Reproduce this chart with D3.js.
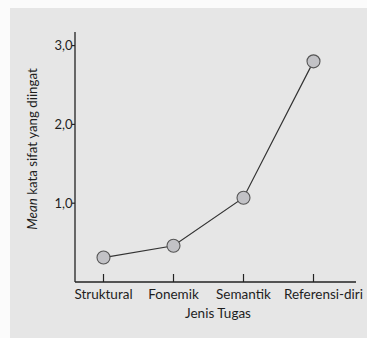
<!DOCTYPE html>
<html><head><meta charset="utf-8">
<script src="https://cdn.jsdelivr.net/npm/d3@7"></script>
<style>
html,body{margin:0;padding:0;background:#fbfbfb;}
svg{display:block;}
text{font-family:Lato,"Open Sans",sans-serif;fill:#1e1e1e;}
</style></head><body>
<script>
const categories = ["Struktural","Fonemik","Semantik","Referensi-diri"];
const values = [0.31, 0.46, 1.07, 2.80];
const yTicks = [1, 2, 3];
const yTickLabels = ["1,0","2,0","3,0"];
const xTitle = "Jenis Tugas";

const W = 367, H = 338;
const svg = d3.select("body").append("svg").attr("width", W).attr("height", H);
svg.append("rect").attr("x",10).attr("y",8).attr("width",W-10).attr("height",H-8).attr("fill","#e6e6e6");

const x0 = 75, y0 = 282;
const x = d3.scalePoint().domain(categories).range([103.5, 313.5]);
const y = d3.scaleLinear().domain([0, 3]).range([y0, y0 - 3*78.8]);

svg.append("line").attr("x1",x0).attr("x2",x0).attr("y1",32).attr("y2",y0).attr("stroke","#222").attr("stroke-width",1.3);
svg.append("line").attr("x1",x0).attr("x2",356).attr("y1",y0).attr("y2",y0).attr("stroke","#222").attr("stroke-width",1.3);

const yt = svg.append("g");
yTicks.forEach((t,i)=>{
  yt.append("line").attr("x1",x0-3).attr("x2",x0).attr("y1",y(t)).attr("y2",y(t)).attr("stroke","#222").attr("stroke-width",1.2);
  yt.append("text").attr("x",x0-2.5).attr("y",y(t)).attr("dy","0.35em").attr("text-anchor","end").attr("font-size",13).text(yTickLabels[i]);
});

categories.forEach((c,i)=>{
  svg.append("line").attr("x1",x(c)).attr("x2",x(c)).attr("y1",y0-8).attr("y2",y0).attr("stroke","#222").attr("stroke-width",1.2);
  const last = i === categories.length-1;
  svg.append("text").attr("x", last ? W-4 : x(c)).attr("y",y0+17)
    .attr("text-anchor", last ? "end" : "middle").attr("font-size",13.5).text(c);
});
svg.append("text").attr("x",218).attr("y",y0+36).attr("text-anchor","middle").attr("font-size",13.5).text(xTitle);

const yl = svg.append("text").attr("transform","translate(37,149) rotate(-90)").attr("text-anchor","middle").attr("font-size",13.3);
yl.append("tspan").attr("font-style","italic").text("Mean");
yl.append("tspan").text(" kata sifat yang diingat");

const pts = categories.map((c,i)=>[x(c), y(values[i])]);
svg.append("path").attr("d", d3.line()(pts)).attr("fill","none").attr("stroke","#333").attr("stroke-width",1.2);
svg.selectAll("circle.p").data(values).join("circle").attr("class","p")
  .attr("cx",(d,i)=>x(categories[i])).attr("cy",d=>y(d)).attr("r",6.5)
  .attr("fill","#c2c2c6").attr("stroke","#555").attr("stroke-width",1.1);
</script>
</body></html>
